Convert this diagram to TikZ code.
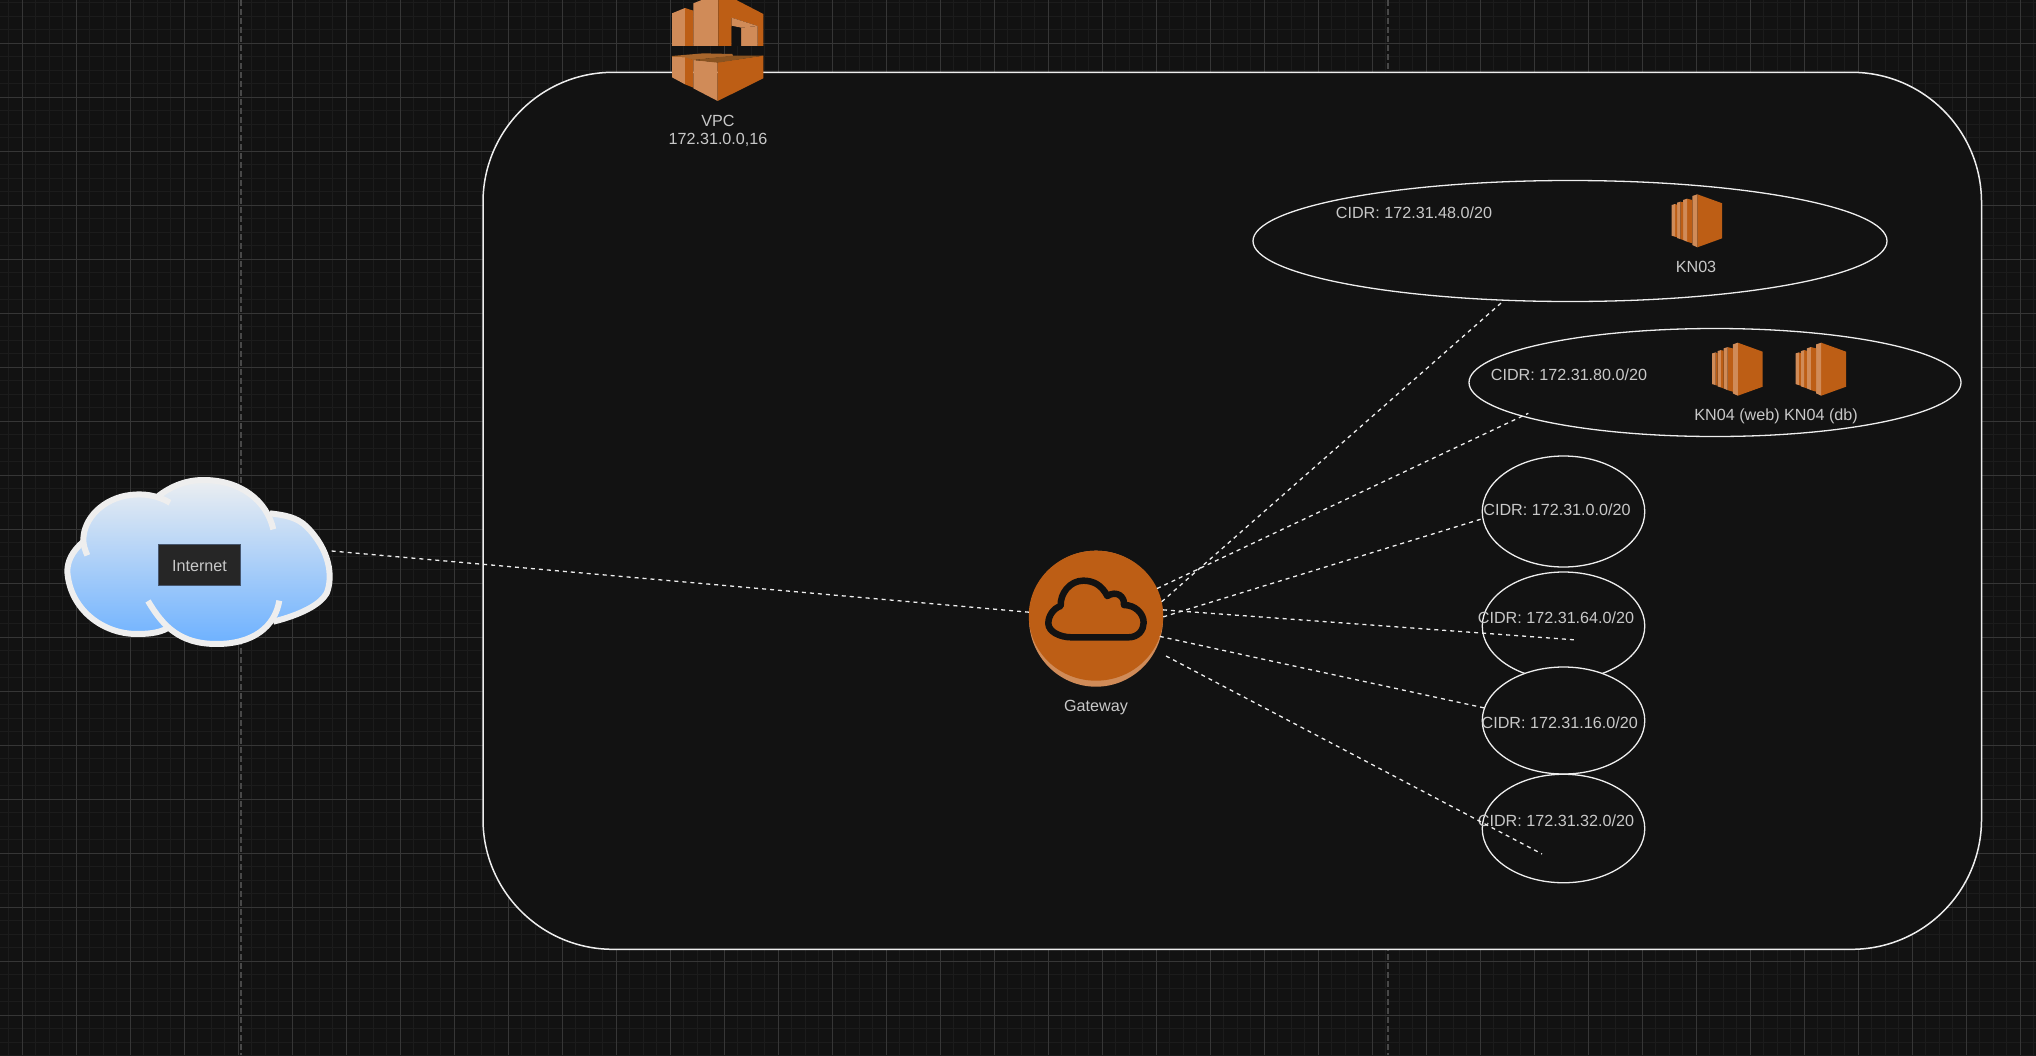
\documentclass[tikz,border=0pt]{standalone}
\usepackage{fontspec}
\setmainfont{Liberation Sans}
\usetikzlibrary{shapes.geometric}
\definecolor{bgc}{HTML}{121212}
\definecolor{minorc}{HTML}{1C1C1C}
\definecolor{majorc}{HTML}{363636}
\definecolor{pagec}{HTML}{484848}
\definecolor{linec}{HTML}{EEEEEE}
\definecolor{txtc}{HTML}{C8C8C8}
\definecolor{awsd}{HTML}{BD5E15}
\definecolor{awsl}{HTML}{D08B58}
\definecolor{awsb}{HTML}{8A5320}
\definecolor{awsc}{HTML}{A8662C}
\definecolor{cloudt}{HTML}{EBEEF1}
\definecolor{cloudb}{HTML}{6DB1FF}
\definecolor{cloudl}{HTML}{EEEEEE}
\definecolor{boxf}{HTML}{262626}
\definecolor{boxd}{HTML}{46566E}
\tikzset{
  zone/.style={draw=linec,line width=1.3pt,fill=bgc,ellipse,inner sep=0pt,outer sep=0pt},
  lbl/.style={text=txtc,font=\fontsize{16.15}{19}\selectfont,inner sep=0pt,align=center},
  conn/.style={draw=linec,line width=1.3pt,dash pattern=on 4pt off 4pt},
  ectwo/.pic={
    \fill[awsd] (32.3,4.3)--(57.2,13.3)--(57.2,48.3)--(32.3,57.3)--cycle;
    \fill[awsl] (27.3,6)--(32.3,4.3)--(32.3,57.3)--(27.3,55)--cycle;
    \fill[awsd] (22,8.7)--(27.3,10)--(27.3,53.3)--(22,51.7)--cycle;
    \fill[awsl] (18,10)--(22,8.7)--(22,51.7)--(18,50)--cycle;
    \fill[awsd] (15.3,11.7)--(18,12.3)--(18,50)--(15.3,49)--cycle;
    \fill[awsl] (12,12.7)--(15.3,11.7)--(15.3,49)--(12,48)--cycle;
    \fill[awsd] (10,14)--(12,14.7)--(12,47.3)--(10,46.7)--cycle;
    \fill[awsl] (6.7,15)--(10,14)--(10,46.7)--(6.7,45.7)--cycle;
  }
}
\begin{document}
\begin{tikzpicture}[x=1pt,y=-1pt]
\clip (0,0) rectangle (2036,1055);
\fill[bgc] (0,0) rectangle (2036,1055);
% grid
\foreach \k in {-1,0,...,149} {
  \draw[minorc,line width=1pt] ({22.3+13.5*\k},0) -- ({22.3+13.5*\k},1055);
}
\foreach \k in {-3,-2,...,78} {
  \draw[minorc,line width=1pt] (0,{43.3+13.5*\k}) -- (2036,{43.3+13.5*\k});
}
\foreach \k in {0,1,...,37} {
  \draw[majorc,line width=1pt] ({22.3+54*\k},0) -- ({22.3+54*\k},1055);
}
\foreach \k in {0,1,...,19} {
  \draw[majorc,line width=1pt] (0,{43.3+54*\k}) -- (2036,{43.3+54*\k});
}
\draw[pagec,line width=2pt,dash pattern=on 5.5pt off 3.5pt] (240.7,0) -- (240.7,1055);
\draw[pagec,line width=2pt,dash pattern=on 5.5pt off 3.5pt] (1388.3,0) -- (1388.3,1055);
% VPC area
\node[draw=linec,line width=1.5pt,fill=bgc,rounded corners=130pt,inner sep=0pt,outer sep=0pt,
  minimum width=1498.5pt,minimum height=877pt] (vpc) at (1232.25,510.8) {};
% VPC icon
\begin{scope}[shift={(640,0)},x=0.3333pt,y=-0.3333pt]
  \fill[awsl] (96,40)--(135,24)--(135,138)--(96,138)--cycle;
  \fill[awsd] (135,24)--(160,32)--(160,138)--(135,138)--cycle;
  \fill[awsl] (160,10)--(190,-2)--(235,-2)--(235,138)--(160,138)--cycle;
  \fill[awsd] (235,-2)--(285,-2)--(370,42)--(370,138)--(353,138)--(353,78)--(275,53)--(275,138)--(235,138)--cycle;
  \fill[awsl] (275,53)--(353,78)--(303,83)--(275,77)--cycle;
  \fill[awsl] (303,83)--(353,78)--(353,138)--(303,138)--cycle;
  \fill[bgc] (275,80)--(303,84)--(303,138)--(275,138)--cycle;
  \fill[awsc] (96,168)--(190,160)--(277,162)--(279,168)--(160,180)--(96,171)--cycle;
  \fill[awsl] (96,171)--(135,172)--(135,253)--(96,232)--cycle;
  \fill[awsd] (135,172)--(160,180)--(160,263)--(135,253)--cycle;
  \fill[awsl] (160,180)--(233,187)--(233,303)--(160,265)--cycle;
  \fill[awsd] (233,187)--(370,167)--(370,235)--(233,303)--cycle;
  \fill[awsb] (160,180)--(279,167)--(370,167)--(233,188)--cycle;
\end{scope}
\node[lbl] (vpcl1) at (718,121) {VPC};
\node[lbl] (vpcl2) at (718,140) {172.31.0.0,16};
% subnets
\node[zone,minimum width=634pt,minimum height=121pt] (e1) at (1570,241) {};
\node[zone,minimum width=492pt,minimum height=108pt] (e2) at (1715,382.5) {};
\node[zone,minimum width=162.5pt,minimum height=111pt] (e3) at (1563.5,511.5) {};
\node[zone,minimum width=162.5pt,minimum height=108pt] (e4) at (1563.5,626) {};
\node[zone,minimum width=162.5pt,minimum height=107pt] (e5) at (1563.5,720.5) {};
\node[zone,minimum width=162.5pt,minimum height=108.5pt] (e6) at (1563.5,828.5) {};
\node[lbl] (t1) at (1414,212.6) {CIDR: 172.31.48.0/20};
\node[lbl] (t2) at (1569,375) {CIDR: 172.31.80.0/20};
\node[lbl] (t3) at (1557,510) {CIDR: 172.31.0.0/20};
\node[lbl] (t4) at (1556,618) {CIDR: 172.31.64.0/20};
\node[lbl] (t5) at (1559.7,723) {CIDR: 172.31.16.0/20};
\node[lbl] (t6) at (1556,821) {CIDR: 172.31.32.0/20};
% EC2 icons
\pic at (1665,190) {ectwo};
\pic at (1705.5,338.4) {ectwo};
\pic at (1788.9,338.4) {ectwo};
\node[lbl] (k3) at (1696,267) {KN03};
\node[lbl] (k4a) at (1737,416) {KN04 (web)};
\node[lbl] (k4b) at (1821,416) {KN04 (db)};
% cloud
\begin{scope}[shift={(40,450)},x=0.3333pt,y=-0.3333pt]
  \path[top color=cloudt,bottom color=cloudb]
    (700,515) .. controls (780,495) and (840,465) .. (860,430)
    .. controls (880,380) and (870,300) .. (800,230)
    .. controls (770,200) and (730,195) .. (690,190)
    .. controls (660,130) and (590,90) .. (490,90)
    .. controls (430,90) and (385,115) .. (355,138)
    .. controls (330,130) and (300,132) .. (270,135)
    .. controls (190,145) and (130,205) .. (130,275)
    .. controls (95,305) and (82,335) .. (82,365)
    .. controls (90,480) and (190,552) .. (290,552)
    .. controls (320,552) and (355,550) .. (378,532)
    .. controls (420,570) and (470,582) .. (530,582)
    .. controls (610,582) and (670,560) .. (700,515) -- cycle;
  \begin{scope}[draw=cloudl,line width=6pt]
    \draw (700,515) .. controls (780,495) and (840,465) .. (860,430)
      .. controls (880,380) and (870,300) .. (800,230)
      .. controls (770,200) and (730,195) .. (690,190);
    \draw (700,238) .. controls (680,150) and (600,90) .. (490,90)
      .. controls (430,90) and (385,115) .. (355,138);
    \draw (390,158) .. controls (350,135) and (310,130) .. (270,135)
      .. controls (190,145) and (130,205) .. (130,270)
      .. controls (130,285) and (135,300) .. (142,316);
    \draw (130,275) .. controls (95,305) and (82,335) .. (82,365)
      .. controls (90,480) and (190,552) .. (290,552)
      .. controls (320,552) and (355,550) .. (382,535);
    \draw (324,453) .. controls (370,530) and (420,582) .. (530,582)
      .. controls (640,582) and (705,530) .. (718,452);
  \end{scope}
\end{scope}
\node[draw=boxd,line width=1pt,fill=boxf,inner sep=0pt,outer sep=0pt,minimum width=82pt,minimum height=41pt] (boxi) at (199.5,565.3) {};
\node[lbl] (inet) at (199.5,565.8) {Internet};
% gateway
\node[ellipse,fill=awsl,inner sep=0pt,minimum width=134pt,minimum height=136pt,outer sep=0pt] (gwr) at (1096,618.7) {};
\node[ellipse,fill=awsd,inner sep=0pt,minimum width=134.5pt,minimum height=130pt,outer sep=0pt] (gw) at (1096,615.7) {};
\begin{scope}[shift={(1000,530)},x=0.3333pt,y=-0.3333pt]
  \draw[bgc,line width=6.5pt,line join=round]
    (215,322) -- (385,322)
    .. controls (415,322) and (431,300) .. (431,278)
    .. controls (431,250) and (405,225) .. (372,225)
    .. controls (375,200) and (350,180) .. (322,198)
    .. controls (305,165) and (280,152) .. (250,152)
    .. controls (210,152) and (180,190) .. (182,228)
    .. controls (160,235) and (145,258) .. (145,280)
    .. controls (145,305) and (180,322) .. (215,322) -- cycle;
\end{scope}
\node[lbl] (gwl) at (1096,707.5) {Gateway};
% free ends
\coordinate (g6) at (1166,656);
\coordinate (f2) at (1528.3,413.3);
\coordinate (f4) at (1577,640);
\coordinate (f6) at (1542,854);
\coordinate (c0) at (331.7,551);
% connectors
\draw[conn] (c0) -- (gw.177);
\draw[conn] (gw.12) -- (e1.222);
\draw[conn] (gw.24) -- (f2);
\draw[conn] (gw.-1) -- (e3.185.6);
\draw[conn] (gw.5.5) -- (f4);
\draw[conn] (gw.-18) -- (e5.171);
\draw[conn] (g6) -- (f6);
\end{tikzpicture}
\end{document}
